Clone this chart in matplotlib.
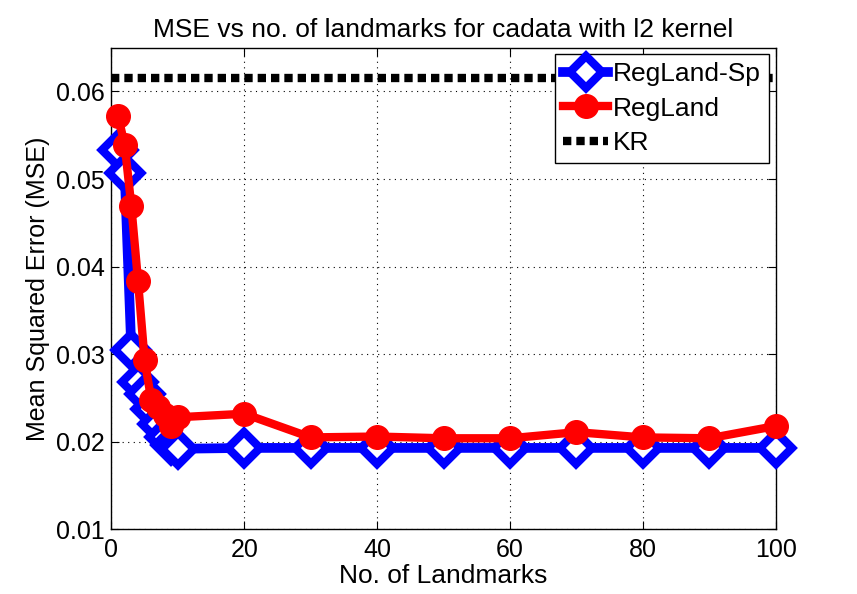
import matplotlib
matplotlib.use("Agg")
import matplotlib.pyplot as plt
import numpy as np

plt.rcParams['font.family'] = ['Liberation Sans', 'DejaVu Sans']

# data
landmarks = [1, 2, 3, 4, 5, 6, 7, 8, 9, 10, 20, 30, 40, 50, 60, 70, 80, 90, 100]
mse_sp = [0.0533, 0.0507, 0.0305, 0.0268, 0.0255, 0.0238, 0.0220, 0.0205,
          0.0196, 0.0192, 0.0193, 0.0193, 0.0193, 0.0193, 0.0193, 0.0193,
          0.0193, 0.0193, 0.0193]
mse_reg = [0.0572, 0.0539, 0.0469, 0.0384, 0.0293, 0.0248, 0.0240, 0.0231,
           0.0218, 0.0228, 0.0232, 0.0205, 0.0206, 0.0204, 0.0204, 0.0211,
           0.0205, 0.0204, 0.0218]
mse_kr = 0.0615

fig = plt.figure(figsize=(8.57, 5.94), dpi=100)
ax = fig.add_axes([0.1300, 0.1088, 0.7752, 0.8110])

ax.plot(landmarks, mse_sp, color='blue', lw=7, marker='D', ms=16,
        mfc='white', mec='blue', mew=6, label='RegLand-Sp', zorder=3, clip_on=False)
ax.plot(landmarks, mse_reg, color='red', lw=6, marker='o', ms=17,
        mfc='red', mec='red', label='RegLand', zorder=4, clip_on=False)
ax.plot([0, 100], [mse_kr, mse_kr], color='black', lw=6, ls=(0, (1, 0.6)),
        label='KR', zorder=2)

ax.set_xlim(0, 100)
ax.set_ylim(0.01, 0.065)
ax.set_xticks(np.arange(0, 101, 20))
ax.set_yticks([0.01, 0.02, 0.03, 0.04, 0.05, 0.06])
ax.set_yticklabels(['0.01', '0.02', '0.03', '0.04', '0.05', '0.06'])
ax.tick_params(direction='in', labelsize=18, length=6, top=True, right=True)
ax.tick_params(axis='x', pad=6)
ax.tick_params(axis='y', pad=5)
ax.grid(True, color='black', ls=(0, (1, 4)), lw=0.8)
for s in ax.spines.values():
    s.set_linewidth(1.0)

ax.set_title('MSE vs no. of landmarks for cadata with l2 kernel', fontsize=19, pad=8)
ax.set_xlabel('No. of Landmarks', fontsize=19, labelpad=2)
ax.set_ylabel('Mean Squared Error (MSE)', fontsize=18, labelpad=4)

leg = ax.legend(loc='upper right', fontsize=19, fancybox=False, framealpha=1,
                edgecolor='black', borderaxespad=0.25, handlelength=1.7,
                handletextpad=0.2, labelspacing=0.4, borderpad=0.3)
leg.get_frame().set_linewidth(1.0)

fig.savefig('out.png', dpi=100)
